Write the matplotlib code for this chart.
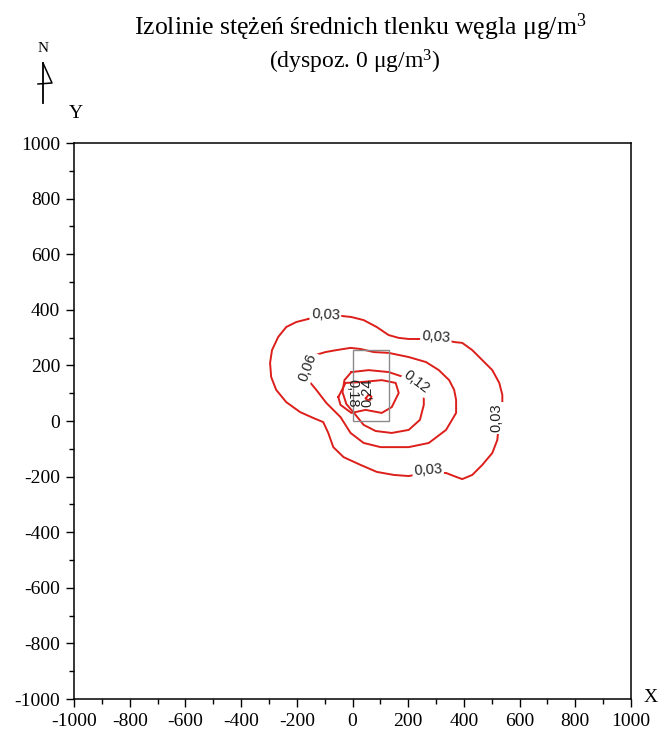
import matplotlib
matplotlib.use('Agg')

import matplotlib.pyplot as plt
from matplotlib.lines import Line2D
from matplotlib.patches import Rectangle
from matplotlib.ticker import MultipleLocator

plt.rcParams['mathtext.fontset'] = 'custom'
plt.rcParams['mathtext.rm'] = 'Liberation Serif'
plt.rcParams['mathtext.it'] = 'Liberation Serif:italic'

# isolines (x, y in metres)
iso_003_x = [-159, -202, -238, -267, -289, -296, -292, -274, -238, -188, -141, -105, -87, -69, -32,
             29, 87, 148, 202, 271, 336, 372, 394, 430, 466, 502, 520, 527, 538, 538, 527, 502,
             466, 430, 394, 365, 300, 245, 202, 166, 130, 87, 40, -4, -40, -97]
iso_003_y = [367, 356, 338, 302, 255, 209, 158, 112, 68, 32, 11, -4, -43, -94, -130,
             -158, -183, -194, -198, -185, -187, -201, -209, -194, -158, -115, -68, 4, 65, 94, 137, 183,
             219, 255, 281, 284, 300, 295, 295, 299, 309, 338, 363, 374, 378, 381]

iso_006_x = [-134, -97, -58, -7, 29, 76, 130, 202, 264, 310, 347, 365, 372, 372, 336, 274,
             202, 130, 101, 40, -7, -43, -94, -130, -159, -165]
iso_006_y = [237, 248, 255, 263, 259, 248, 245, 230, 212, 183, 147, 112, 76, 29, -32, -79,
             -94, -94, -94, -79, -43, 14, 65, 112, 147, 194]

iso_012_x = [-4, 58, 130, 184, 231, 256, 256, 242, 202, 141, 83, 40, 11, -22, -36, -29]
iso_012_y = [176, 183, 176, 158, 137, 104, 58, 4, -32, -43, -36, -14, 22, 61, 104, 147]

iso_018_x = [-51, -25, 32, 105, 155, 166, 141, 105, 47, -4, -43]
iso_018_y = [86, 137, 140, 147, 137, 101, 50, 29, 40, 29, 58]

iso_024_x = [48, 58, 68, 64, 52]
iso_024_y = [82, 95, 88, 76, 76]

# contour labels: text, x, y, rotation
lab_text = ['0,03', '0,03', '0,03', '0,03', '0,06', '0,12', '0,18', '0,24']
lab_x = [-97, 300, 516, 271, -162, 231, 0, 54]
lab_y = [383, 302, 11, -176, 194, 140, 100, 100]
lab_rot = [-3, -4, 90, 4, 70, -37, 270, 90]

# emitter outline
src_x, src_y, src_w, src_h = 0, 0, 130, 255

W, H = 661, 740
fig = plt.figure(figsize=(W / 100, H / 100), dpi=100)
ax = fig.add_axes([74 / W, 1 - 699 / H, (631 - 74) / W, (699 - 143) / H])

serif = 'Liberation Serif'
red = '#dc1f1a'

for xs, ys in [(iso_003_x, iso_003_y), (iso_006_x, iso_006_y), (iso_012_x, iso_012_y),
               (iso_018_x, iso_018_y), (iso_024_x, iso_024_y)]:
    ax.plot(xs + xs[:1], ys + ys[:1], color=red, lw=1.4, zorder=2,
            solid_joinstyle='round')

ax.add_patch(Rectangle((src_x, src_y), src_w, src_h, fill=False,
                       edgecolor='#8a8a8a', lw=1.0, zorder=3))

for t, x, y, r in zip(lab_text, lab_x, lab_y, lab_rot):
    bg = 'none' if t in ('0,18', '0,24') else 'white'
    ax.text(x, y, t, rotation=r, ha='center', va='center', fontsize=10.5,
            family='Liberation Sans', color='#222222', zorder=4,
            bbox=dict(boxstyle='square,pad=0.1', fc=bg, ec='none'))

ax.set_xlim(-1000, 1000)
ax.set_ylim(-1000, 1000)
ax.xaxis.set_major_locator(MultipleLocator(200))
ax.xaxis.set_minor_locator(MultipleLocator(100))
ax.yaxis.set_major_locator(MultipleLocator(200))
ax.yaxis.set_minor_locator(MultipleLocator(100))
ax.tick_params(which='major', direction='out', length=6, width=1.0, pad=4,
               labelsize=14, top=False, right=False)
ax.tick_params(which='minor', direction='out', length=3.5, width=1.0,
               top=False, right=False)
for lab in ax.get_xticklabels() + ax.get_yticklabels():
    lab.set_family(serif)
ax.xaxis.set_major_formatter(plt.FuncFormatter(lambda v, p: f'{int(v)}'))
ax.yaxis.set_major_formatter(plt.FuncFormatter(lambda v, p: f'{int(v)}'))
for s in ax.spines.values():
    s.set_linewidth(1.1)

# titles and axis letters
fig.text(360 / W, 1 - 27 / H, 'Izolinie stężeń średnich tlenku węgla μg/m$^3$',
         ha='center', va='center', fontsize=18.5, family=serif)
fig.text(355 / W, 1 - 62 / H, '(dyspoz. 0 μg/m$^3$)',
         ha='center', va='center', fontsize=17, family=serif)
fig.text(76 / W, 1 - 114 / H, 'Y', ha='center', va='center', fontsize=14, family=serif)
fig.text(651 / W, 1 - 697 / H, 'X', ha='center', va='center', fontsize=14, family=serif)

# north arrow
fig.text(43 / W, 1 - 49 / H, 'N', ha='center', va='center', fontsize=11, family=serif)
fig.add_artist(Line2D([43 / W, 43 / W], [1 - 103 / H, 1 - 63 / H], color='black', lw=1.3))
fig.add_artist(Line2D([43 / W, 52 / W, 38 / W], [1 - 63 / H, 1 - 83 / H, 1 - 84 / H],
                      color='black', lw=1.1))

fig.savefig('out.png', dpi=100)
